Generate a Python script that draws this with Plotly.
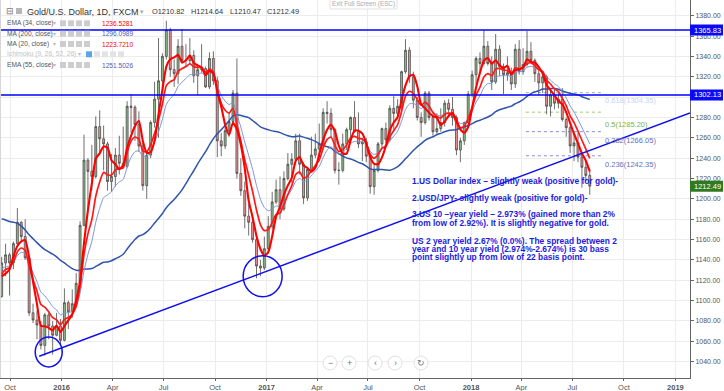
import pandas as pd
import plotly.graph_objects as go

# ---------------- data (weekly bars) ----------------
# weekly closes before the visible window (Dec 2014 .. Sep 2015), used only to warm up the averages
hist_close = [1192, 1222, 1195, 1195, 1186, 1216, 1277, 1293, 1279, 1234, 1228, 1204, 1213,
              1167, 1152, 1182, 1199, 1201, 1207, 1203, 1178, 1174, 1189, 1225, 1205, 1190,
              1172, 1180, 1201, 1173, 1168, 1158, 1132, 1086, 1095, 1094, 1113, 1160, 1134,
              1121, 1103]
hist_start = "2014-12-01"
bars_start = "2015-09-14"

opens = [1104, 1137, 1145, 1137, 1156, 1177, 1163, 1142, 1088, 1081, 1076, 1056, 1086, 1075, 1066, 1075,
         1061, 1098, 1089, 1097, 1117, 1174, 1238, 1227, 1222, 1271, 1259, 1254, 1217, 1222, 1243, 1235,
         1232, 1291, 1290, 1273, 1252, 1213, 1243, 1275, 1298, 1316, 1340, 1366, 1327, 1323, 1350, 1336,
         1336, 1341, 1321, 1327, 1328, 1310, 1338, 1316, 1257, 1252, 1267, 1276, 1304, 1225, 1208, 1183,
         1177, 1160, 1134, 1132,
         1151, 1173, 1197, 1209, 1190, 1220, 1234, 1239, 1257, 1234, 1201, 1229, 1243, 1249, 1254, 1285,
         1284, 1268, 1228, 1228, 1254, 1268, 1280, 1266, 1254, 1256, 1242, 1212, 1228, 1254, 1269, 1258,
         1289, 1284, 1291, 1325, 1346, 1320, 1297, 1280, 1275, 1304, 1280, 1266, 1269, 1275, 1294, 1288,
         1280, 1248, 1257, 1275,
         1303, 1322, 1338, 1333, 1350, 1333, 1315, 1347, 1330, 1322, 1324, 1313, 1347, 1325, 1332, 1345,
         1336, 1323, 1314, 1320, 1291, 1302, 1294, 1298, 1278, 1270, 1252, 1255, 1241, 1231, 1223]
highs = [1143, 1156, 1147, 1158, 1191, 1178, 1180, 1142, 1097, 1090, 1080, 1088, 1088, 1080, 1088, 1082,
         1112, 1100, 1111, 1127, 1178, 1263, 1240, 1253, 1281, 1287, 1272, 1256, 1244, 1250, 1262, 1271,
         1296, 1303, 1292, 1286, 1255, 1246, 1277, 1315, 1358, 1343, 1375, 1368, 1337, 1357, 1367, 1352,
         1358, 1346, 1331, 1352, 1330, 1344, 1345, 1320, 1265, 1274, 1285, 1307, 1338, 1240, 1217, 1195,
         1181, 1165, 1140, 1163,
         1183, 1207, 1219, 1222, 1227, 1245, 1245, 1264, 1264, 1236, 1231, 1261, 1264, 1274, 1289, 1296,
         1289, 1270, 1236, 1264, 1270, 1281, 1296, 1285, 1260, 1260, 1244, 1233, 1256, 1270, 1275, 1292,
         1301, 1298, 1326, 1357, 1349, 1325, 1300, 1285, 1306, 1306, 1284, 1284, 1289, 1297, 1298, 1300,
         1282, 1260, 1276, 1306,
         1326, 1340, 1344, 1366, 1355, 1340, 1362, 1351, 1333, 1340, 1329, 1352, 1356, 1348, 1365, 1354,
         1338, 1326, 1326, 1322, 1307, 1307, 1304, 1309, 1280, 1272, 1265, 1265, 1245, 1236, 1229]
lows = [1103, 1124, 1105, 1131, 1155, 1159, 1140, 1085, 1078, 1062, 1052, 1046, 1062, 1047, 1065, 1057,
        1060, 1072, 1083, 1096, 1111, 1173, 1191, 1208, 1220, 1246, 1228, 1208, 1207, 1212, 1224, 1231,
        1230, 1265, 1257, 1246, 1208, 1200, 1240, 1270, 1260, 1307, 1337, 1320, 1310, 1313, 1333, 1330,
        1332, 1314, 1302, 1324, 1309, 1308, 1312, 1241, 1242, 1249, 1261, 1273, 1220, 1203, 1171, 1164,
        1157, 1122, 1124, 1130,
        1146, 1170, 1195, 1180, 1188, 1218, 1216, 1233, 1224, 1195, 1198, 1228, 1240, 1241, 1249, 1274,
        1260, 1225, 1214, 1226, 1248, 1259, 1265, 1250, 1237, 1236, 1205, 1204, 1226, 1250, 1255, 1256,
        1268, 1281, 1288, 1323, 1314, 1289, 1277, 1261, 1273, 1277, 1262, 1264, 1266, 1271, 1280, 1272,
        1243, 1236, 1253, 1273,
        1300, 1312, 1325, 1331, 1331, 1307, 1313, 1321, 1303, 1316, 1307, 1309, 1322, 1322, 1330, 1334,
        1315, 1302, 1304, 1283, 1281, 1288, 1289, 1276, 1261, 1245, 1237, 1236, 1211, 1217, 1204]
closes = [1137, 1145, 1137, 1156, 1177, 1163, 1142, 1088, 1081, 1076, 1056, 1086, 1075, 1066, 1075, 1061,
          1098, 1089, 1097, 1117, 1174, 1238, 1227, 1222, 1271, 1259, 1254, 1217, 1222, 1243, 1235, 1232,
          1291, 1290, 1273, 1252, 1213, 1243, 1275, 1298, 1316, 1340, 1366, 1327, 1323, 1350, 1336, 1336,
          1341, 1321, 1327, 1328, 1310, 1338, 1316, 1257, 1252, 1267, 1276, 1304, 1225, 1208, 1183, 1177,
          1160, 1134, 1132, 1151,
          1173, 1197, 1209, 1190, 1220, 1234, 1239, 1257, 1234, 1201, 1229, 1243, 1249, 1254, 1285, 1284,
          1268, 1228, 1228, 1254, 1268, 1280, 1266, 1254, 1256, 1242, 1212, 1228, 1254, 1269, 1258, 1289,
          1284, 1291, 1325, 1346, 1320, 1297, 1280, 1275, 1304, 1280, 1266, 1269, 1275, 1294, 1288, 1280,
          1248, 1257, 1275, 1303,
          1322, 1338, 1333, 1350, 1333, 1315, 1347, 1330, 1322, 1324, 1313, 1347, 1325, 1332, 1345, 1336,
          1323, 1314, 1320, 1291, 1302, 1294, 1298, 1278, 1270, 1252, 1255, 1241, 1231, 1223, 1212.49]

# indicator periods (daily 20/34/55/200 expressed in weekly bars)
ma20_len, ema34_span, ema55_span, ma200_len = 4, 7, 11, 40

hlines = [1365.83, 1302.13]
last_price = 1212.49
trend_dates = ["2015-11-22", "2019-01-27"]
trend_prices = [1045.3, 1284.5]
circle_dates = ["2015-12-09", "2016-12-25"]
circle_prices = [1049.5, 1124.0]
circle_radii = [(13.5, 15), (19.5, 20.5)]
fib_levels = [1304.35, 1285.20, 1266.05, 1242.35]
fib_names = ["0.618(1304.35)", "0.5(1285.20)", "0.382(1266.05)", "0.236(1242.35)"]
fib_dates = ["2018-04-09", "2018-08-21"]

tick_dates = ["2015-10-01", "2016-01-01", "2016-04-01", "2016-07-01", "2016-10-01", "2017-01-01",
              "2017-04-01", "2017-07-01", "2017-10-01", "2018-01-01", "2018-04-01", "2018-07-01",
              "2018-10-01", "2019-01-01"]
tick_text = ["Oct", "<b>2016</b>", "Apr", "Jul", "Oct", "<b>2017</b>", "Apr", "Jul", "Oct",
             "<b>2018</b>", "Apr", "Jul", "Oct", "<b>2019</b>"]

legend_rows = [("EMA (34, close)", "1236.5281", "#ff0000"),
               ("MA (200, close)", "1296.0989", "#4a5cb0"),
               ("MA (20, close)", "1223.7210", "#ff0000"),
               ("Ichimoku (9, 26, 52, 26)", "", "#c0c0c0"),
               ("EMA (55, close)", "1251.5026", "#4a5cb0")]

notes = ["1.US Dollar index \u2013 slightly weak (positive for gold)-",
         "2.USD/JPY- slightly weak (positive for gold)-",
         "3.US 10 \u2013year yield \u2013 2.973% (gained more than 2%",
         "from low of 2.92%). It is slightly negative for gold.",
         "US 2 year yield 2.67% (0.0%). The spread between 2",
         "year and 10 year yield (2.974%-2.674%) is 30 bass",
         "point slightly up from low of 22 basis point."]

# ---------------- derived series ----------------
n_hist = len(hist_close)
all_close = pd.Series(hist_close + closes)
all_dates = pd.date_range(hist_start, periods=len(all_close), freq="7D") + pd.Timedelta(days=2)
dates = all_dates[n_hist:]
ma20 = all_close.rolling(ma20_len).mean()[n_hist:]
ma200 = all_close.rolling(ma200_len).mean()[n_hist:]
ema34 = all_close.ewm(span=ema34_span, adjust=False).mean()[n_hist:]
ema55 = all_close.ewm(span=ema55_span, adjust=False).mean()[n_hist:]

YMIN, YMAX = 1023.96, 1395.43
PW, PH = 690, 378


def px(x):
    return x / PW


def py(y):
    return 1 - y / PH


def pprice(p):
    return (p - YMIN) / (YMAX - YMIN)


fig = go.Figure()
fig.add_trace(go.Candlestick(
    x=dates, open=opens, high=highs, low=lows, close=closes,
    increasing=dict(line=dict(color="#4a4a4a", width=0.8), fillcolor="#8cbf8c"),
    decreasing=dict(line=dict(color="#4a4a4a", width=0.8), fillcolor="#f29393"),
    whiskerwidth=0, hoverinfo="skip", showlegend=False))

for s, col, w in [(ma200, "#2f55aa", 1.5), (ema55, "#7a95d8", 1.0),
                  (ema34, "#ff1a1a", 1.7), (ma20, "#ff0000", 2.1)]:
    fig.add_trace(go.Scatter(x=dates, y=s, mode="lines", showlegend=False, hoverinfo="skip",
                             line=dict(color=col, width=w, shape="spline", smoothing=0.6)))

shapes = []
for h in hlines:
    shapes.append(dict(type="line", xref="paper", yref="y", x0=0, x1=1, y0=h, y1=h,
                       line=dict(color="#0000ff", width=1.5)))
shapes.append(dict(type="line", xref="x", yref="y", x0=trend_dates[0], x1=trend_dates[1],
                   y0=trend_prices[0], y1=trend_prices[1], line=dict(color="#1010ee", width=1.5)))
for d, p, (rx, ry) in zip(circle_dates, circle_prices, circle_radii):
    shapes.append(dict(type="circle", xref="x", yref="y", xsizemode="pixel", ysizemode="pixel",
                       xanchor=d, yanchor=p, x0=-rx, x1=rx, y0=-ry, y1=ry,
                       line=dict(color="#1010ee", width=1.5)))
fib_line_cols = ["#9aa6e0", "#9ccc65", "#8a8ae0", "#8a8ae0"]
for lvl, col in zip(fib_levels, fib_line_cols):
    shapes.append(dict(type="line", xref="x", yref="y", x0=fib_dates[0], x1=fib_dates[1],
                       y0=lvl, y1=lvl, line=dict(color=col, width=1, dash="dot"), layer="below"))

annotations = []


def ann(text, x, y, size, color, xanchor="left", **kw):
    annotations.append(dict(text=text, x=px(x), y=py(y), xref="paper", yref="paper",
                            xanchor=xanchor, yanchor="middle", showarrow=False,
                            font=dict(size=size, color=color, family="Liberation Sans, Arial"), **kw))


# fib labels
fib_label_cols = ["#c9d2f2", "#7cb342", "#6670b8", "#6670b8"]
fib_shift = [-1, -6, -2, -2]
for lvl, name, col, sh in zip(fib_levels, fib_names, fib_label_cols, fib_shift):
    annotations.append(dict(text=name, x=px(603), y=pprice(lvl), xref="paper", yref="paper",
                            xanchor="left", yanchor="top", yshift=sh, showarrow=False,
                            font=dict(size=7.5, color=col, family="Liberation Sans, Arial")))

# right-axis price tags
for val, col in [(hlines[0], "#0a0af5"), (hlines[1], "#0a0af5"), (last_price, "#2f7a1f")]:
    yc = pprice(val)
    shapes.append(dict(type="rect", xref="paper", yref="paper", x0=1, x1=1 + 33 / PW,
                       y0=yc - 5.5 / PH, y1=yc + 5.5 / PH, fillcolor=col, line=dict(width=0)))
    annotations.append(dict(text=f"{val:.2f}", x=1 + 17 / PW, y=yc, xref="paper", yref="paper",
                            xanchor="center", yanchor="middle", showarrow=False,
                            font=dict(size=7.5, color="white", family="Liberation Sans, Arial")))

# notes
note_y = [181, 198.3, 214.3, 223.3, 240.7, 249.3, 257.3]
for t, y in zip(notes, note_y):
    ann("<b>" + t + "</b>", 410, y, 8.4, "#1c1cdc")

# header legend
ann("\u229f", 4, 11, 9, "#777")
shapes.append(dict(type="rect", xref="paper", yref="paper", x0=px(16), x1=px(22), y0=py(14), y1=py(8),
                   fillcolor="#b5b5b5", line=dict(width=0)))
ann("Gold/U.S. Dollar, 1D, FXCM", 25, 11.5, 9, "#333")
ann("\u25be", 138, 11.5, 7, "#aaa")
for t, x in [("O1210.82", 150), ("H1214.64", 189), ("L1210.47", 228), ("C1212.49", 265)]:
    ann(t, x, 11.5, 7.4, "#333")

row_y = [23.3, 33.7, 44, 54.3, 65]
for (lab, val, col), y in zip(legend_rows, row_y):
    ich = val == ""
    ann(lab, 5, y, 6.6, "#c4c4c4" if ich else "#555")
    ann("\u25be", 76 if ich else 51, y, 6, "#bbb")
    icon_x = [86, 94, 102, 110, 118] if ich else [60, 68, 76, 84]
    for k, ix in enumerate(icon_x):
        fc = "#5aa5ea" if (ich and k == 0) else ("#e3e3e3" if ich else "#cdcdcd")
        shapes.append(dict(type="rect", xref="paper", yref="paper", x0=px(ix), x1=px(ix + 6),
                           y0=py(y + 3), y1=py(y - 3), fillcolor=fc, line=dict(width=0)))
    if val:
        ann(val, 99.5, y, 6.6, col)

# exit full screen tag
shapes.append(dict(type="rect", xref="paper", yref="paper", x0=px(330), x1=px(397), y0=py(9), y1=py(-3),
                   fillcolor="white", line=dict(color="#e2e2e2", width=1)))
ann("Exit Full Screen (ESC)", 363.5, 4, 6.3, "#aaa", xanchor="center")

# navigation buttons
for cx, g in [(330, "\u2212"), (349, "+"), (375, "\u2039"), (395, "\u203a"), (421, "\u21bb")]:
    shapes.append(dict(type="circle", xref="paper", yref="paper", x0=px(cx - 7), x1=px(cx + 7),
                       y0=py(363 + 7), y1=py(363 - 7), fillcolor="white",
                       line=dict(color="#e0e0e0", width=1)))
    ann(g, cx, 363, 9, "#6b7785", xanchor="center")

# thin left border
shapes.append(dict(type="line", xref="paper", yref="paper", x0=0, x1=0, y0=0, y1=1,
                   line=dict(color="#d6d6d6", width=2)))

fig.update_layout(
    width=724, height=391, margin=dict(l=0, r=34, t=0, b=13),
    paper_bgcolor="white", plot_bgcolor="white", showlegend=False,
    shapes=shapes, annotations=annotations,
    font=dict(family="Liberation Sans, Arial"),
    xaxis=dict(type="date", range=["2015-09-13", "2019-01-27"], tickvals=tick_dates, ticktext=tick_text,
               showgrid=True, gridcolor="#ececec", gridwidth=1, showline=True, linecolor="#666",
               ticks="outside", ticklen=2, tickcolor="#666", tickfont=dict(size=7.5, color="#555"),
               rangeslider=dict(visible=False), zeroline=False, fixedrange=True),
    yaxis=dict(side="right", range=[YMIN, YMAX], tick0=1040, dtick=20, tickformat=".2f",
               showgrid=True, gridcolor="#ececec", gridwidth=1, showline=True, linecolor="#666",
               ticks="outside", ticklen=3, tickcolor="#666", tickfont=dict(size=7, color="#555"),
               zeroline=False, fixedrange=True),
)

fig.write_html("out.html", config={"displayModeBar": False},
               post_script="document.body.style.margin='0px';document.body.style.overflow='hidden';")
